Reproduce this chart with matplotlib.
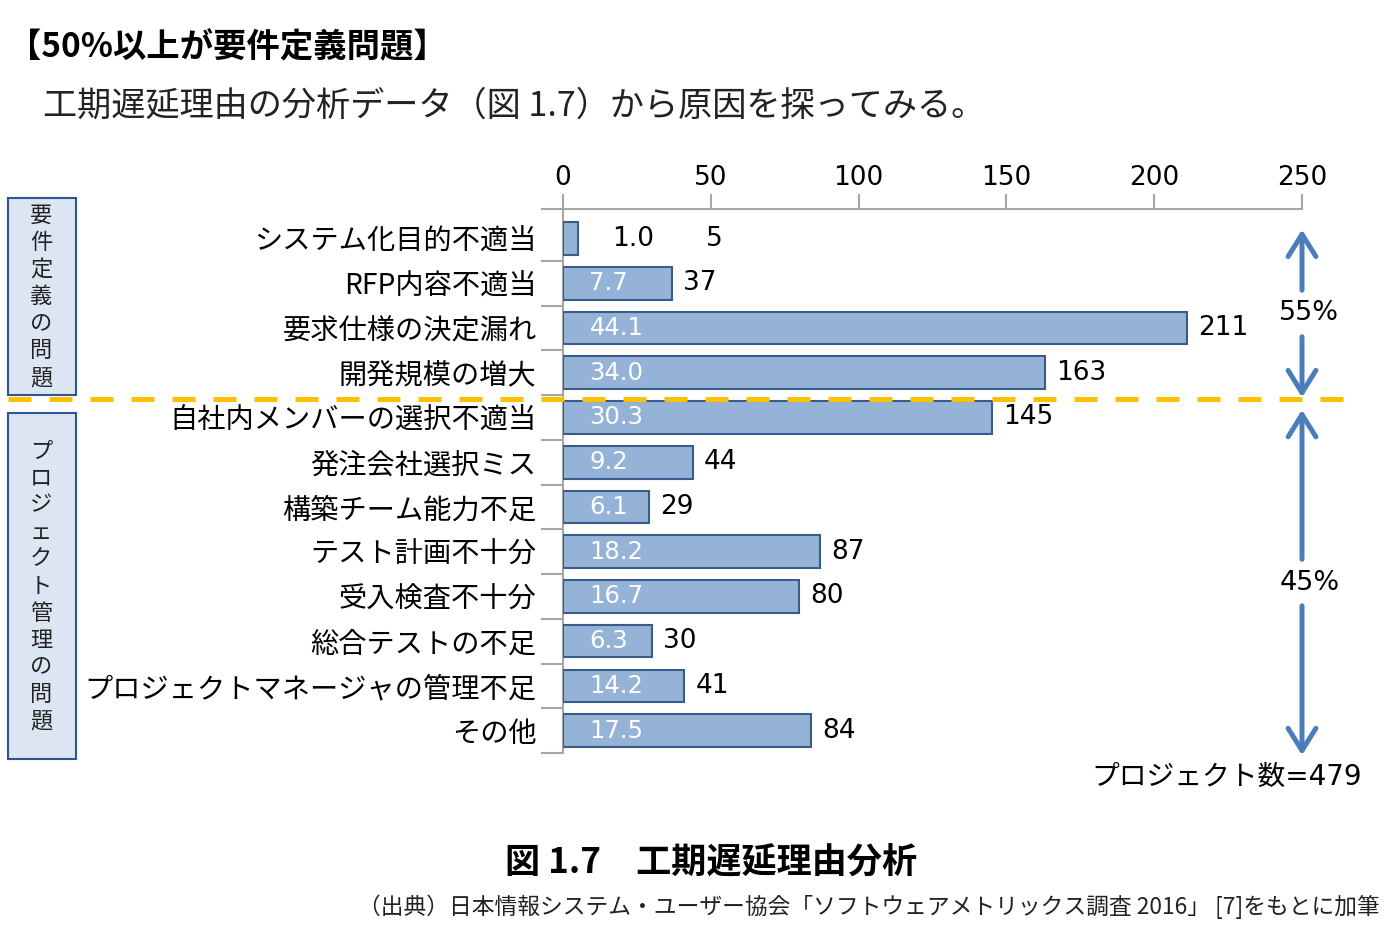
import matplotlib
matplotlib.use('Agg')
import matplotlib.pyplot as plt
from matplotlib.patches import Rectangle

# ---------------- data ----------------
categories = ['システム化目的不適当', 'RFP内容不適当', '要求仕様の決定漏れ', '開発規模の増大',
              '自社内メンバーの選択不適当', '発注会社選択ミス', '構築チーム能力不足',
              'テスト計画不十分', '受入検査不十分', '総合テストの不足',
              'プロジェクトマネージャの管理不足', 'その他']
counts = [5, 37, 211, 163, 145, 44, 29, 87, 80, 30, 41, 84]
percents = [1.0, 7.7, 44.1, 34.0, 30.3, 9.2, 6.1, 18.2, 16.7, 6.3, 14.2, 17.5]
group_names = ['要件定義の問題', 'プロジェクト管理の問題']
group_sizes = [4, 8]
group_shares = ['55%', '45%']
total_label = 'プロジェクト数=479'
xticks = [0, 50, 100, 150, 200, 250]

title = '【50%以上が要件定義問題】'
subtitle = '工期遅延理由の分析データ（図 1.7）から原因を探ってみる。'
caption = '図 1.7　工期遅延理由分析'
source = '（出典）日本情報システム・ユーザー協会「ソフトウェアメトリックス調査 2016」 [7]をもとに加筆'

# ---------------- style ----------------
W, H, DPI = 1396, 933, 100
JP = ['Noto Sans CJK JP', 'DejaVu Sans']
LAT = ['DejaVu Sans', 'Noto Sans CJK JP']
plt.rcParams['font.family'] = JP

BAR_FILL = '#95B3D7'
BAR_EDGE = '#385D8A'
GRID_GRAY = '#A6A6A6'
ARROW = '#4A7EBB'
DASH = '#FFC000'
BOX_FILL = '#DCE6F2'
BOX_EDGE = '#2F5597'

fig = plt.figure(figsize=(W / DPI, H / DPI), dpi=DPI)
fig.patch.set_facecolor('white')


def fx(px):
    return px / W


def fy(py):
    return 1 - py / H


ax = fig.add_axes([fx(563), fy(753), (1302 - 563) / W, (753 - 209) / H])
n = len(categories)
ytop = -0.66
ax.set_xlim(0, 250)
ax.set_ylim(n - 0.5, ytop)

for s in ['right', 'bottom']:
    ax.spines[s].set_visible(False)
for s in ['top', 'left']:
    ax.spines[s].set_color(GRID_GRAY)
    ax.spines[s].set_linewidth(1.5)

ax.xaxis.set_ticks_position('top')
ax.set_xticks(xticks)
ax.set_xticklabels([str(t) for t in xticks], family=LAT)
ax.tick_params(axis='x', direction='out', length=11, width=1.5, color=GRID_GRAY,
               labelsize=19, pad=2, labelcolor='black')

ax.set_yticks(range(n))
ax.set_yticklabels(categories, fontsize=20.3, family=JP)
ax.tick_params(axis='y', which='major', length=0, pad=19)
ax.set_yticks([ytop] + [k + 0.5 for k in range(n)], minor=True)
ax.tick_params(axis='y', which='minor', length=16, width=1.5, color=GRID_GRAY)

ypos = list(range(n))
ax.barh(ypos, counts, height=0.73, color=BAR_FILL, edgecolor=BAR_EDGE,
        linewidth=1.5, zorder=3)

for i, (c, p) in enumerate(zip(counts, percents)):
    if c < 20:
        ax.annotate(f'{p:.1f}', xy=(c, i), xytext=(25, 0), textcoords='offset points',
                    ha='left', va='center', fontsize=19, family=LAT, color='black')
        ax.annotate(f'{c}', xy=(c, i), xytext=(92, 0), textcoords='offset points',
                    ha='left', va='center', fontsize=19, family=LAT, color='black')
    else:
        ax.annotate(f'{p:.1f}', xy=(0, i), xytext=(19, 0), textcoords='offset points',
                    ha='left', va='center', fontsize=17.5, family=LAT, color='white',
                    zorder=4)
        ax.annotate(f'{c}', xy=(c, i), xytext=(8, 0), textcoords='offset points',
                    ha='left', va='center', fontsize=19, family=LAT, color='black')

# group divider
split = group_sizes[0] - 0.5
ax.axhline(split + 0.08, xmin=(8 - 563) / 739, xmax=(1345 - 563) / 739, color=DASH,
           lw=3.6, linestyle=(0, (4.6, 3.6)), clip_on=False, zorder=5)

# share arrows
bounds = [(-0.5, split), (split, n - 0.5)]
tips = [(bounds[0][0] + 0.3, bounds[0][1] + 0.05), (bounds[1][0] + 0.33, bounds[1][1] + 0.05)]
gap = 0.52
aprops = dict(arrowstyle='->,head_length=0.8,head_width=0.5', lw=3.6, color=ARROW,
              shrinkA=0, shrinkB=0, mutation_scale=20)
for (t0, t1), share in zip(tips, group_shares):
    mid = (t0 + t1) / 2
    ax.annotate('', xy=(250, t0), xytext=(250, mid - gap), arrowprops=aprops,
                annotation_clip=False)
    ax.annotate('', xy=(250, t1), xytext=(250, mid + gap), arrowprops=aprops,
                annotation_clip=False)
    ax.text(252.5, mid, share, ha='center', va='center', fontsize=19.5, family=LAT,
            color='black', clip_on=False)

fig.text(fx(1362), fy(777), total_label, ha='right', va='center', fontsize=20,
         family=LAT, color='black')

# left group boxes
boxes = [(198, 395), (413, 759)]
for (top, bot), name in zip(boxes, group_names):
    fig.patches.append(Rectangle((fx(8), fy(bot)), (76 - 8) / W, (bot - top) / H,
                                 transform=fig.transFigure, facecolor=BOX_FILL,
                                 edgecolor=BOX_EDGE, linewidth=1.5))
    cy = (top + bot) / 2
    step = 27
    for k, ch in enumerate(name):
        yy = cy + (k - (len(name) - 1) / 2) * step
        fig.text(fx(41), fy(yy), ch, ha='center', va='center', fontsize=16,
                 family=JP, color='#222222')

# titles
fig.text(fx(8), fy(48), title, ha='left', va='center', fontsize=24,
         fontweight='bold', family=JP, color='black')
fig.text(fx(43), fy(106), subtitle, ha='left', va='center', fontsize=24.6,
         family=JP, color='#222222')
fig.text(fx(711), fy(862), caption, ha='center', va='center', fontsize=25.3,
         fontweight='bold', family=JP, color='black')
fig.text(fx(1380), fy(907), source, ha='right', va='center', fontsize=16.4,
         family=JP, color='#222222')

fig.savefig('out.png', dpi=DPI, facecolor='white')
